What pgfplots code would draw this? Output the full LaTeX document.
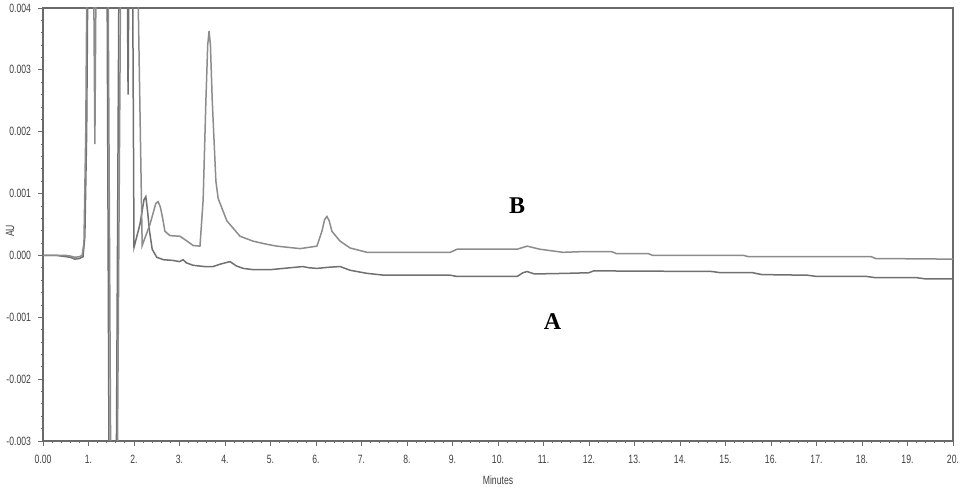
\documentclass[border=0pt]{standalone}
\usepackage{fontspec}
\setmainfont{Liberation Serif}
\newfontfamily\ticknarrow{Liberation Sans}[FakeStretch=0.72]
\usepackage{pgfplots}
\pgfplotsset{compat=1.18}
\usetikzlibrary{calc}
\definecolor{traceA}{HTML}{707070}
\definecolor{traceB}{HTML}{8C8C8C}
\definecolor{axgray}{HTML}{6A6A6A}
\begin{document}
\begin{tikzpicture}
\useasboundingbox (-21.5pt,-30pt) rectangle (458.5pt,220.5pt);
\begin{axis}[
  at={(0,0)}, anchor=south west,
  scale only axis,
  width=455pt, height=216.5pt,
  xmin=0, xmax=20, ymin=-0.003, ymax=0.004,
  axis line style={axgray, line width=0.9pt},
  tick style={axgray, line width=0.4pt},
  tick align=outside,
  xtick pos=left, ytick pos=left,
  major tick length=2.5pt, minor tick length=1.2pt,
  minor x tick num=4, minor y tick num=4,
  xtick={0,1,...,20},
  xticklabels={0.00,1.,2.,3.,4.,5.,6.,7.,8.,9.,10.,11.,12.,13.,14.,15.,16.,17.,18.,19.,20.},
  ytick={-0.003,-0.002,-0.001,0,0.001,0.002,0.003,0.004},
  scaled y ticks=false,
  yticklabels={-0.003,-0.002,-0.001,0.000,0.001,0.002,0.003,0.004},
  ticklabel style={font=\ticknarrow\fontsize{6}{7}\selectfont, text=black!75},
  xticklabel style={yshift=-1pt},
]
% Trace A (lower)
\addplot[traceA, line width=0.75pt] coordinates {
(0,0) (0.3,0) (0.5,-0.00002) (0.6,-0.00003) (0.7,-0.00006) (0.8,-0.00005) (0.88,-0.00002)
(0.92,0.0003) (0.96,0.002) (1.00,0.006) (1.40,0.006) (1.46,-0.005) (1.60,-0.005) (1.68,0.006)
(1.84,0.006) (1.87,0.0026) (1.90,0.006) (1.96,0.006) (2.00,0.00013) (2.13,0.0005) (2.22,0.0009) (2.26,0.00095)
(2.30,0.0007) (2.34,0.0004) (2.40,0.0001) (2.50,-0.00003) (2.65,-0.00007) (2.85,-0.00008) (3.0,-0.0001)
(3.08,-0.00007) (3.15,-0.00012) (3.30,-0.00016) (3.55,-0.00018) (3.74,-0.00018) (3.90,-0.00014)
(4.11,-0.0001) (4.25,-0.00017) (4.40,-0.00021) (4.62,-0.00023) (5.0,-0.00023) (5.71,-0.00018)
(5.85,-0.0002) (6.02,-0.00021) (6.3,-0.00019) (6.53,-0.00018) (6.75,-0.00024) (7.12,-0.00029)
(7.5,-0.00032) (8.95,-0.00032) (9.1,-0.00034) (10.42,-0.00034) (10.55,-0.00028) (10.64,-0.00026)
(10.80,-0.00030) (11.5,-0.00029) (12.0,-0.00028) (12.1,-0.00025) (14.7,-0.00026) (14.9,-0.00028)
(15.6,-0.00028) (15.8,-0.00031) (16.8,-0.00032) (17.0,-0.00034) (18.1,-0.00034) (18.3,-0.00036)
(19.2,-0.00036) (19.4,-0.00038) (20,-0.00038)
};
% Trace B (upper)
\addplot[traceB, line width=0.75pt] coordinates {
(0,0) (0.5,0) (0.6,-0.00001) (0.7,-0.00003) (0.8,-0.00002) (0.86,0) (0.9,0.0002) (0.94,0.002)
(0.98,0.006) (1.10,0.006) (1.14,0.0018) (1.18,0.006) (1.42,0.006) (1.50,-0.005) (1.62,-0.005)
(1.72,0.006) (2.05,0.006) (2.18,0.00016) (2.35,0.0005) (2.48,0.00084) (2.53,0.00087) (2.58,0.00078) (2.63,0.0006) (2.68,0.00039)
(2.79,0.00032) (3.01,0.00031) (3.15,0.00024) (3.30,0.00016) (3.45,0.00015) (3.52,0.0009)
(3.58,0.0025) (3.62,0.0034) (3.65,0.00363) (3.68,0.0034) (3.72,0.0025) (3.80,0.0012) (3.85,0.00092) (4.04,0.00056)
(4.33,0.00031) (4.62,0.00023) (4.92,0.00018) (5.14,0.00015) (5.65,0.00011) (6.02,0.00015)
(6.13,0.00039) (6.19,0.00058) (6.24,0.00063) (6.29,0.00056) (6.35,0.00039) (6.53,0.00023) (6.75,0.00012) (7.12,0.00005)
(8.95,0.00005) (9.1,0.0001) (10.42,0.0001) (10.64,0.00015) (10.92,0.0001) (11.43,0.00005)
(11.8,0.00006) (12.5,0.00006) (12.6,0.00003) (13.3,0.00003) (13.4,0) (15.4,0) (15.5,-0.00002)
(18.2,-0.00002) (18.3,-0.00005) (20,-0.00006)
};
\node[font=\bfseries\fontsize{12}{14}\selectfont] at (axis cs:10.42,0.00081) {B};
\node[font=\bfseries\fontsize{12}{14}\selectfont] at (axis cs:11.2,-0.00107) {A};
\end{axis}
\node[font=\ticknarrow\fontsize{6}{7}\selectfont, text=black!75, rotate=90] at (-16.5pt,105pt) {AU};
\node[font=\ticknarrow\fontsize{6}{7}\selectfont, text=black!75] at (227.5pt,-19.5pt) {Minutes};
\end{tikzpicture}
\end{document}
